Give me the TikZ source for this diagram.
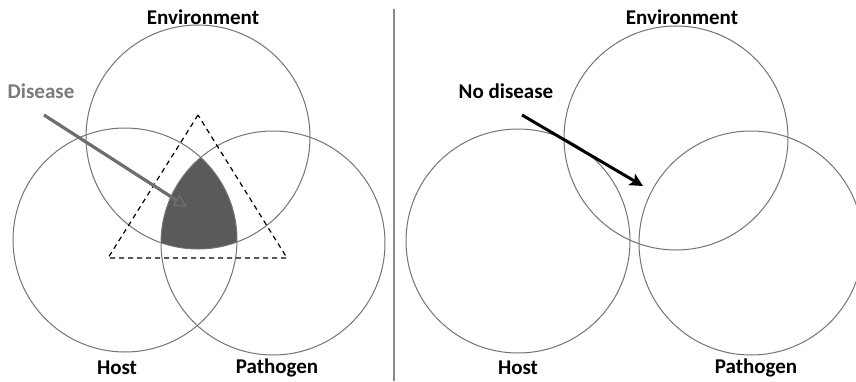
\documentclass[tikz,border=0pt]{standalone}
\usepackage{fontspec}
\setmainfont{Carlito}
\usetikzlibrary{arrows.meta}
\definecolor{ring}{HTML}{737373}
\definecolor{darkfill}{HTML}{5A5A5A}
\definecolor{dlabel}{HTML}{7A7A7A}
\definecolor{darrow}{HTML}{6E6E6E}
\tikzset{
  ringc/.style={circle, draw=ring, line width=1pt, inner sep=0pt, minimum size=224pt},
  lab/.style={font=\fontsize{21}{24}\selectfont\bfseries, inner sep=0pt, anchor=center},
}
\begin{document}
\begin{tikzpicture}[x=1pt,y=-1pt]
\useasboundingbox (0,0) rectangle (856,381);
% left panel shading
\begin{scope}
  \clip (198,137) circle[radius=112pt];
  \clip (125,240) circle[radius=112pt];
  \fill[darkfill] (273,243) circle[radius=112pt];
\end{scope}
\node[ringc] (E1) at (198,137) {};
\node[ringc] (H1) at (125,240) {};
\node[ringc] (P1) at (273,243) {};
% dashed triangle
\coordinate (T1) at (198,115);
\coordinate (T2) at (108,258);
\coordinate (T3) at (287,258);
\draw[dashed, dash pattern=on 5pt off 4pt, line width=1.2pt] (T1) -- (T2) -- (T3) -- cycle;
% labels left
\node[lab] (envL) at (203,17) {Environment};
\node[lab] (hostL) at (117,368) {Host};
\node[lab] (pathL) at (277,368) {Pathogen};
\node[lab, text=dlabel] (dis) at (41,91) {Disease};
\coordinate (ds) at (44,115);
\coordinate (dt) at (187,207);
\draw[darrow, line width=3.2pt, -{Triangle[open, length=13pt, width=13pt, line width=1.4pt]}] (ds) -- (dt);
% separator
\coordinate (s1) at (394,9);
\coordinate (s2) at (394,381);
\draw[ring!85, line width=2pt] (s1) -- (s2);
% right panel
\node[ringc] (E2) at (676,138) {};
\node[ringc] (H2) at (518,241) {};
\node[ringc] (P2) at (751,243) {};
\node[lab] (envR) at (682,17) {Environment};
\node[lab] (hostR) at (518,368) {Host};
\node[lab] (pathR) at (756,368) {Pathogen};
\node[lab] (nod) at (506,91) {No disease};
\coordinate (ns) at (522,115);
\coordinate (nt) at (643,186);
\draw[black, line width=3pt, -{Stealth[length=13pt, width=13pt, inset=3pt]}] (ns) -- (nt);
\end{tikzpicture}
\end{document}
